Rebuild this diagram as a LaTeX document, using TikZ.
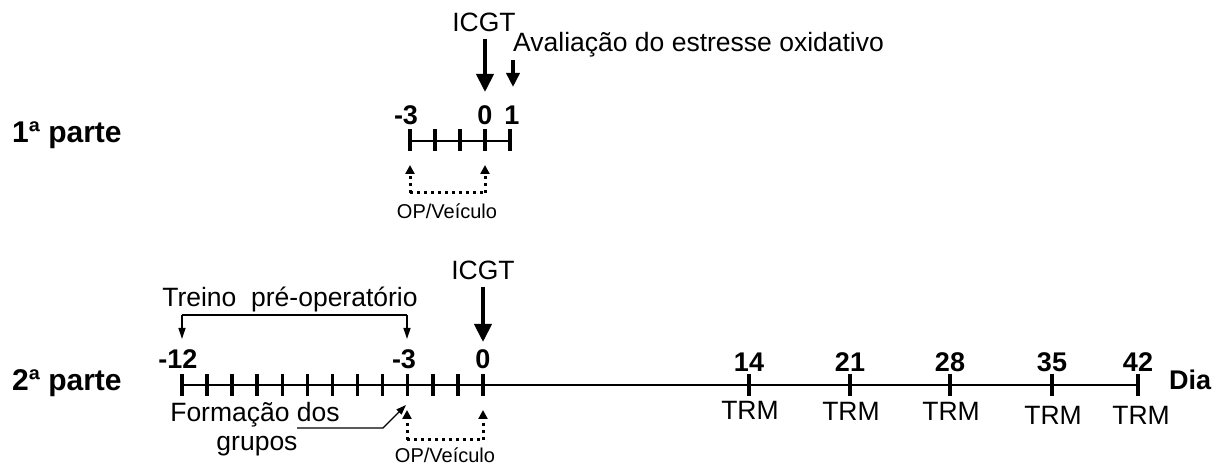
\documentclass[tikz,border=0pt]{standalone}
\usepackage{fontspec}
\setmainfont{Liberation Sans}
\usetikzlibrary{arrows.meta}
\newcommand\fsz[1]{\fontsize{#1bp}{#1bp}\selectfont}

\begin{document}
\begin{tikzpicture}[x=1bp,y=-1bp,
  txt/.style={inner sep=0pt, font=\fsz{26.5}},
  num/.style={inner sep=0pt, font=\fsz{27}\bfseries},
  smalltxt/.style={inner sep=0pt, font=\fsz{20}},
  part/.style={inner sep=0pt, anchor=west, font=\fsz{30}\bfseries},
  axis/.style={line width=2.5bp},
  tickmark/.style={line width=3.5bp},
  bigarrow/.style={line width=4bp, -{Triangle[width=17bp,length=18bp]}},
  midarrow/.style={line width=4bp, -{Triangle[width=13bp,length=14bp]}},
  dotarrow/.style={line width=3bp, dash pattern=on 3bp off 4bp, -{Triangle[width=9bp,length=9bp]}},
  dotline/.style={line width=3bp, dash pattern=on 3bp off 4bp},
  thinarrow/.style={line width=1.3bp, -{Triangle[width=7bp,length=11bp]}},
  thinline/.style={line width=1.3bp},
]
\useasboundingbox (0,0) rectangle (1222,465);

% ---------------- first part ----------------
\node[part] (parte1) at (12,135) {1ª parte};

\foreach \i in {0,...,4}{
  \coordinate (q\i) at ({410+25*\i},141);
  \draw[tickmark] ({410+25*\i},129) -- ({410+25*\i},151);
}
\draw[axis] (q0) -- (q4);

\node[num] (lm3) at (406,115) {-3};
\node[num] (l0a) at (485,115) {0};
\node[num] (l1a) at (512,115) {1};

\node[txt] (icgt1) at (484,22) {ICGT};
\coordinate (icgt1start) at (485,39);
\coordinate (icgt1end) at (485,92);
\draw[bigarrow] (icgt1start) -- (icgt1end);

\node[txt, anchor=base west] (aval) at (513,52) {Avaliação do estresse oxidativo};
\coordinate (avalstart) at (513,60);
\coordinate (avalend) at (513,87);
\draw[midarrow] (avalstart) -- (avalend);

\coordinate (opA1) at (410,193);
\coordinate (opA2) at (485,193);
\coordinate (opA1t) at (410,165);
\coordinate (opA2t) at (485,165);
\draw[dotline] (opA1) -- (opA2);
\draw[dotarrow] (opA1) -- (opA1t);
\draw[dotarrow] (opA2) -- (opA2t);
\node[smalltxt] (opveic1) at (447,211) {OP/Veículo};

% ---------------- second part ----------------
\node[part] (parte2) at (12,383) {2ª parte};

\foreach \i in {0,...,12}{
  \coordinate (d\i) at ({182+25.08*\i},385);
  \draw[tickmark] ({182+25.08*\i},374) -- ({182+25.08*\i},396);
}
\foreach \n/\x in {14/749,21/850,28/950,35/1052,42/1138}{
  \coordinate (w\n) at (\x,385);
  \draw[tickmark] (\x,374) -- (\x,396);
}
\draw[axis] (d0) -- (w42);

\node[num] (lm12) at (178,359) {-12};
\node[num] (lm3b) at (404,359) {-3};
\node[num] (l0b) at (483,359) {0};
\node[num] (l14) at (749,362) {14};
\node[num] (l21) at (850,362) {21};
\node[num] (l28) at (950,362) {28};
\node[num] (l35) at (1052,362) {35};
\node[num] (l42) at (1138,362) {42};
\node[num, anchor=base west] (dia) at (1169,390) {Dia};

\node[txt] (trm14) at (750,410) {TRM};
\node[txt] (trm21) at (851,411) {TRM};
\node[txt] (trm28) at (951,411) {TRM};
\node[txt] (trm35) at (1053,415) {TRM};
\node[txt] (trm42) at (1141,415) {TRM};

% pre-operative training bracket
\node[txt] (treino) at (290,299) {Treino\ \ pré-operatório};
\coordinate (brL) at (182,315);
\coordinate (brR) at (407,315);
\coordinate (brLe) at (182,339);
\coordinate (brRe) at (407,339);
\draw[thinline] (brL) -- (brR);
\draw[thinarrow] (brL) -- (brLe);
\draw[thinarrow] (brR) -- (brRe);

% surgery day
\node[txt] (icgt2) at (483,270) {ICGT};
\coordinate (icgt2start) at (483,287);
\coordinate (icgt2end) at (483,342);
\draw[bigarrow] (icgt2start) -- (icgt2end);

% group formation
\node[txt] (formacao) at (255,415) {Formação dos};
\node[txt] (grupos) at (257,446) {grupos};
\coordinate (fa) at (297,428);
\coordinate (fb) at (383,428);
\coordinate (fc) at (406,405);
\draw[thinline, -{Triangle[width=7bp,length=10bp]}] (fa) -- (fb) -- (fc);

% vehicle administration
\coordinate (opB1) at (407,440);
\coordinate (opB2) at (483,440);
\coordinate (opB1t) at (407,410);
\coordinate (opB2t) at (483,410);
\draw[dotline] (opB1) -- (opB2);
\draw[dotarrow] (opB1) -- (opB1t);
\draw[dotarrow] (opB2) -- (opB2t);
\node[smalltxt] (opveic2) at (445,455) {OP/Veículo};
\end{tikzpicture}
\end{document}
